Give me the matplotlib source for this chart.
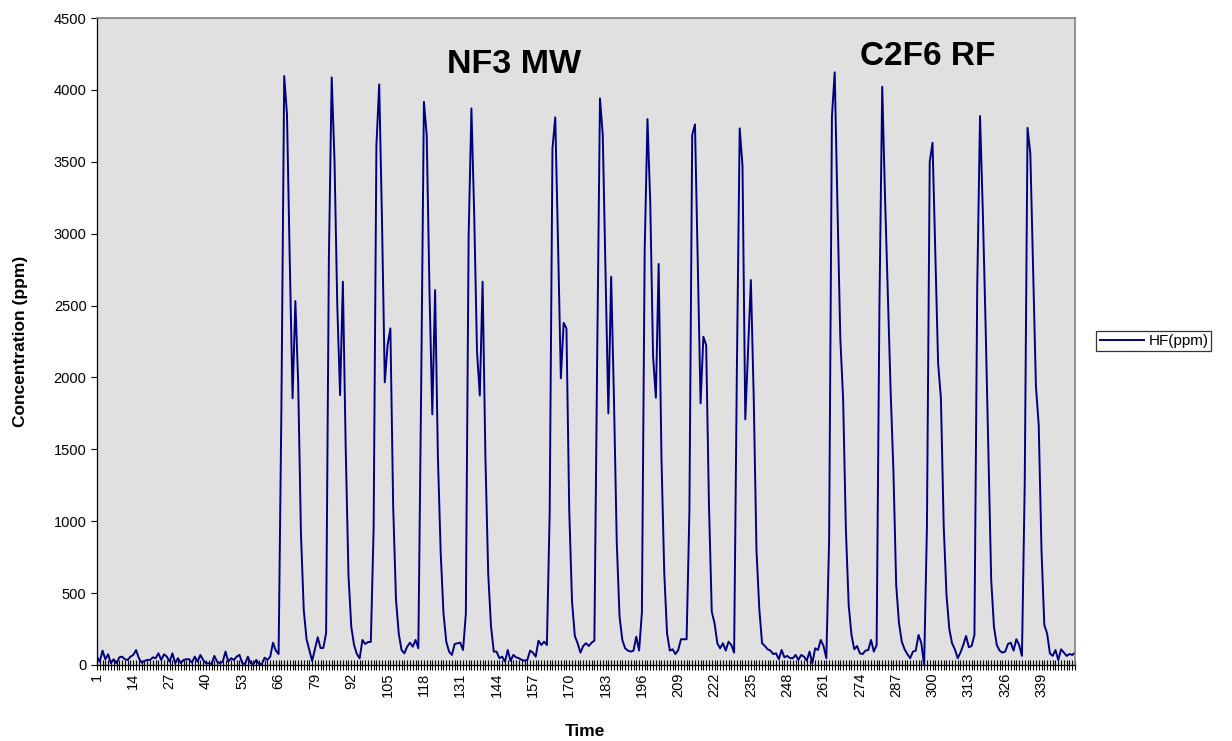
import matplotlib
matplotlib.use("Agg")
from matplotlib import pyplot as plt

plt.rcParams['font.family'] = ['Liberation Sans', 'DejaVu Sans']

# HF concentration readings, one per time step
hf_ppm = [
    58, 23, 100, 40, 74, 12, 40, 12, 53, 58,
    40, 35, 58, 70, 104, 47, 16, 28, 35, 35,
    53, 47, 81, 35, 74, 58, 23, 81, 12, 47,
    12, 35, 40, 40, 16, 58, 23, 70, 35, 12,
    12, 7, 63, 23, 12, 23, 93, 23, 47, 35,
    58, 70, 12, 7, 58, 12, 7, 35, 7, 7,
    51, 35, 58, 155, 100, 76, 1785, 4096, 3830, 2805,
    1855, 2531, 1966, 911, 382, 179, 104, 28, 110, 193,
    118, 118, 222, 2844, 4087, 3512, 2497, 1877, 2666, 1521,
    626, 266, 139, 76, 46, 174, 146, 160, 160, 946,
    3614, 4038, 3088, 1966, 2225, 2341, 1101, 457, 216, 104,
    81, 127, 155, 127, 174, 116, 1900, 3917, 3686, 2596,
    1743, 2608, 1449, 781, 360, 162, 93, 70, 146, 151,
    155, 104, 355, 2985, 3871, 3129, 2179, 1874, 2666, 1449,
    638, 271, 93, 93, 47, 58, 23, 104, 28, 70,
    53, 47, 35, 30, 35, 100, 86, 58, 169, 139,
    162, 139, 1055, 3593, 3809, 2926, 1994, 2380, 2341, 1078,
    440, 202, 151, 86, 132, 151, 132, 155, 169, 2144,
    3941, 3686, 2700, 1750, 2700, 1855, 857, 336, 174, 116,
    100, 93, 100, 197, 100, 364, 2886, 3797, 3210, 2144,
    1859, 2789, 1442, 642, 220, 100, 109, 76, 104, 179,
    179, 179, 1066, 3686, 3760, 2777, 1820, 2283, 2225, 1113,
    371, 290, 151, 116, 151, 100, 162, 139, 86, 2074,
    3732, 3472, 1709, 2200, 2677, 1877, 800, 394, 151, 132,
    109, 100, 76, 81, 40, 104, 53, 63, 48, 47,
    70, 35, 70, 58, 30, 93, 12, 116, 104, 174,
    132, 47, 869, 3813, 4122, 3171, 2272, 1855, 939, 417,
    209, 109, 132, 81, 76, 100, 104, 174, 93, 139,
    2492, 4022, 3257, 2580, 1912, 1356, 556, 290, 162, 109,
    76, 47, 93, 100, 209, 151, 0, 962, 3500, 3632,
    2860, 2098, 1855, 967, 487, 250, 150, 109, 47, 86,
    139, 202, 123, 132, 209, 2631, 3818, 3152, 2357, 1470,
    591, 262, 139, 100, 86, 93, 146, 155, 100, 179,
    139, 63, 1268, 3736, 3558, 2750, 1940, 1669, 795, 278,
    220, 81, 63, 104, 35, 109, 86, 63, 76, 70, 86,
]
time = list(range(1, len(hf_ppm) + 1))
label_every = 13
y_ticks = list(range(0, 4501, 500))
series_name = 'HF(ppm)'

fig = plt.figure(figsize=(12.32, 7.41), dpi=100)
ax = fig.add_axes([0.0787, 0.1026, 0.7939, 0.8731])
ax.set_facecolor('#e0e0e0')

line, = ax.plot(time, hf_ppm, color='#000080', linewidth=1.4, label=series_name)

ax.set_xlim(time[0], time[-1])
ax.set_ylim(0, 4500)
ax.set_yticks(y_ticks)
ax.set_xticks(time)
ax.set_xticklabels([str(t) if (t - 1) % label_every == 0 else '' for t in time],
                   rotation=90, fontsize=10.5)
ax.tick_params(axis='x', direction='inout', length=7, width=0.8, pad=2)
ax.tick_params(axis='y', direction='out', length=4, width=0.8, labelsize=10.5)

for side in ['top', 'right']:
    ax.spines[side].set_color('#808080')
    ax.spines[side].set_linewidth(1.2)
for side in ['left', 'bottom']:
    ax.spines[side].set_color('black')
    ax.spines[side].set_linewidth(0.9)

ax.set_ylabel('Concentration (ppm)', fontsize=12.5, fontweight='bold')
ax.yaxis.set_label_coords(-0.071, 0.5)
ax.set_xlabel('Time', fontsize=12.5, fontweight='bold')
ax.xaxis.set_label_coords(0.499, -0.092)

fig.text(0.417, 0.9136, 'NF3 MW', fontsize=24.5, fontweight='bold', ha='center', va='center')
fig.text(0.753, 0.9244, 'C2F6 RF', fontsize=24, fontweight='bold', ha='center', va='center')

leg = fig.legend(handles=[line], loc='center left', bbox_to_anchor=(0.890, 0.540),
                 fontsize=11, frameon=True, fancybox=False, handlelength=2.9,
                 borderpad=0.2, handletextpad=0.3, borderaxespad=0)
leg.get_frame().set_edgecolor('black')
leg.get_frame().set_linewidth(0.9)

fig.savefig('out.png', dpi=100)
